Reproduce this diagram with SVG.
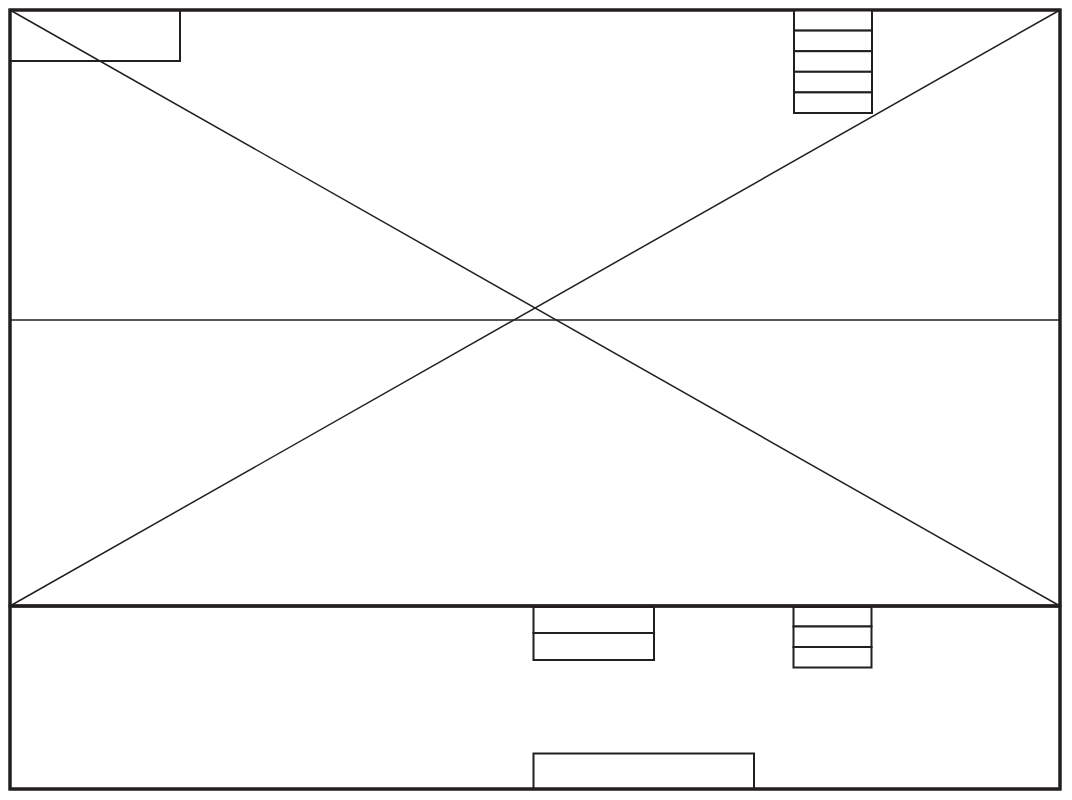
<svg xmlns="http://www.w3.org/2000/svg" width="1072" height="800" viewBox="0 0 1072 800">
<style>
.frame{fill:none;stroke:#231f20;stroke-width:3}
.box{fill:#fff;stroke:#231f20;stroke-width:2}
.ln{fill:none;stroke:#231f20;stroke-width:1.5}
</style>
<rect width="1072" height="800" fill="#fff"/>
<g id="connectors">
<line class="ln" x1="10" y1="10" x2="1060" y2="606"/>
<line class="ln" x1="10" y1="606" x2="1060" y2="10"/>
<line class="ln" x1="10" y1="320" x2="1060" y2="320"/>
</g>
<g id="top-panel"><rect class="frame" x="10" y="10" width="1050" height="596"/></g>
<g id="bottom-panel"><rect class="frame" x="10" y="606" width="1050" height="183"/></g>
<g id="top-left-box"><rect class="box" x="10" y="10" width="170" height="51" fill="none" style="fill:none"/></g>
<g id="top-right-stack">
<rect class="box" x="794" y="10" width="78" height="20.6"/>
<rect class="box" x="794" y="30.6" width="78" height="20.6"/>
<rect class="box" x="794" y="51.2" width="78" height="20.6"/>
<rect class="box" x="794" y="71.8" width="78" height="20.6"/>
<rect class="box" x="794" y="92.4" width="78" height="20.6"/>
</g>
<g id="bottom-stack-1">
<rect class="box" x="533.5" y="607" width="120.5" height="26"/>
<rect class="box" x="533.5" y="633" width="120.5" height="27"/>
</g>
<g id="bottom-stack-2">
<rect class="box" x="793.5" y="607" width="78" height="19.5"/>
<rect class="box" x="793.5" y="626.5" width="78" height="20.5"/>
<rect class="box" x="793.5" y="647" width="78" height="20.5"/>
</g>
<g id="bottom-box"><rect class="box" x="533.5" y="753.5" width="220.5" height="35"/></g>
<g id="frame-edges">
<rect class="frame" x="10" y="10" width="1050" height="779"/>
<line class="frame" x1="10" y1="606" x2="1060" y2="606"/>
</g>
</svg>
